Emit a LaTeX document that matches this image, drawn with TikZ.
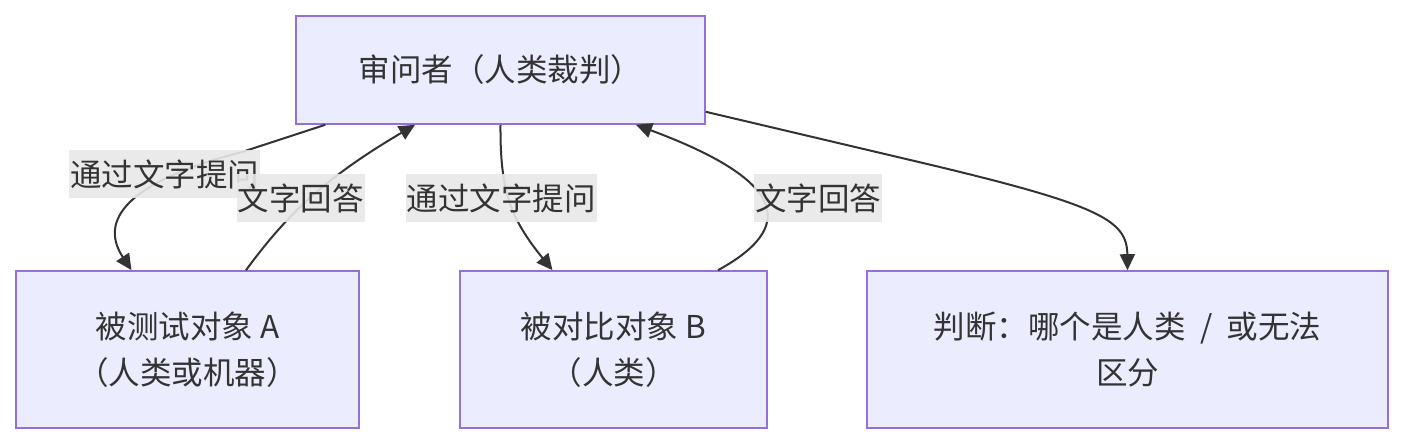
\documentclass[tikz,border=0pt]{standalone}
\usepackage{fontspec}
\setmainfont{Noto Sans CJK SC}
\usetikzlibrary{arrows.meta}
\definecolor{boxfill}{HTML}{ECECFF}
\definecolor{boxline}{HTML}{9370DB}
\definecolor{ink}{HTML}{333333}
\definecolor{lblbg}{HTML}{E8E8E8}
\tikzset{
  box/.style={draw=boxline, fill=boxfill, line width=1.6pt, align=center, text=ink,
    font=\fontsize{31.5}{46}\selectfont, inner sep=0pt},
  lbl/.style={fill=lblbg, fill opacity=0.9, text opacity=1, text=ink, inner xsep=1pt, inner ysep=0pt,
    minimum height=48pt, font=\fontsize{31.5}{34}\selectfont},
  conn/.style={draw=ink, line width=2pt, -{Triangle[length=16pt,width=15pt]}},
}
\begin{document}
\begin{tikzpicture}[x=1pt,y=-1pt]
\useasboundingbox (0,0) rectangle (1403,444);
\node[box, minimum width=409pt, minimum height=108pt] (top) at (500.5,70) {审问者（人类裁判）};
\node[box, minimum width=343pt, minimum height=157pt] (a) at (187.5,349.5) {被测试对象 A\\（人类或机器）};
\node[box, minimum width=307pt, minimum height=157pt] (b) at (613.5,349.5) {被对比对象 B\\（人类）};
\node[box, minimum width=521pt, minimum height=157pt] (c) at (1127.5,349.5) {判断：哪个是人类\ \ /\ \ 或无法\\区分};
% edges
\draw[conn] ([xshift=30pt]top.south west) -- (242,152) .. controls (140,178) and (95,215) .. ([xshift=-56pt]a.north);
\draw[conn] ([xshift=58.5pt]a.north) .. controls (290,210) and (330,175) .. ([xshift=-85.5pt]top.south);
\draw[conn] (top.south) .. controls (500,190) and (510,218) .. ([xshift=-61pt]b.north);
\draw[conn] ([xshift=104.5pt]b.north) .. controls (795,228) and (790,182) .. ([xshift=135.5pt]top.south);
\draw[conn] ([yshift=13pt]top.south east) -- (923,163) .. controls (1100,205) and (1127,220) .. (c.north);
% labels
\node[lbl] (l1) at (164.5,174) {通过文字提问};
\node[lbl] (l2) at (300.5,198) {文字回答};
\node[lbl] (l3) at (501,198) {通过文字提问};
\node[lbl] (l4) at (818,198) {文字回答};
\end{tikzpicture}
\end{document}
